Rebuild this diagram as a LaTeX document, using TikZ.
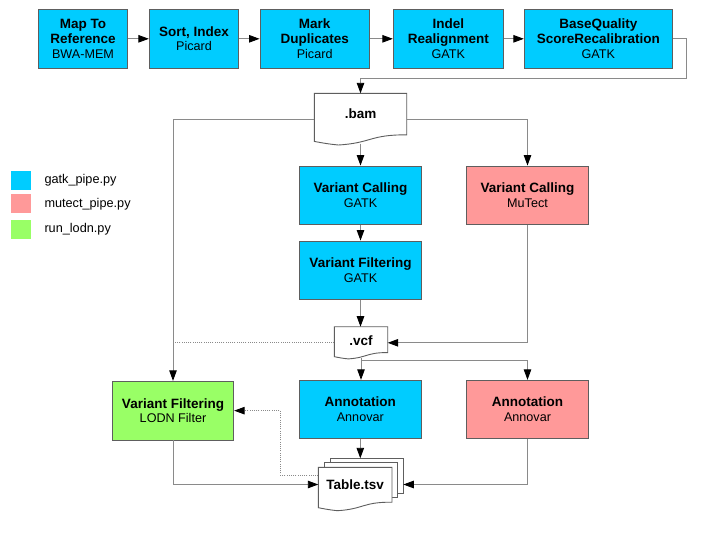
\documentclass[tikz,border=0pt]{standalone}
\usepackage{fontspec}
\setmainfont{Liberation Sans}
\usetikzlibrary{arrows.meta,calc}
\definecolor{gblue}{HTML}{00CCFF}
\definecolor{mpink}{HTML}{FF9999}
\definecolor{lgreen}{HTML}{99FF66}
\definecolor{bordergray}{HTML}{5E5E5E}
\definecolor{linegray}{HTML}{8A8A8A}
\newcommand\boxtitle[1]{{\fontsize{13.5pt}{14.7pt}\selectfont\bfseries #1}}
\newcommand\docshape[4]{\draw[docline] (#1,#2) -- ({#1+#3},#2) -- ({#1+#3},{#2+0.804*#4}) .. controls ({#1+0.604*#3},{#2+0.797*#4}) and ({#1+0.618*#3},{#2+0.962*#4}) .. ({#1+0.26*#3},{#2+#4}) .. controls ({#1+0.132*#3},{#2+0.977*#4}) and ({#1+0.086*#3},{#2+0.958*#4}) .. (#1,{#2+0.931*#4}) -- cycle;}
\begin{document}
\begin{tikzpicture}[x=1pt,y=-1pt,
  procbox/.style={draw=bordergray, line width=0.9pt, align=center, inner sep=0pt, font=\fontsize{12.6pt}{14.7pt}\selectfont},
  bluebox/.style={procbox, fill=gblue},
  pinkbox/.style={procbox, fill=mpink},
  greenbox/.style={procbox, fill=lgreen},
  toprow/.style={minimum height=59pt},
  midbox/.style={minimum width=122.4pt, minimum height=58.3pt},
  docline/.style={draw=bordergray, line width=0.9pt, fill=white},
  hidden/.style={inner sep=0pt, outer sep=0pt},
  doctext/.style={font=\fontsize{13.5pt}{14.7pt}\selectfont\bfseries},
  conn/.style={draw=linegray, line width=0.9pt, -{Triangle[length=10.5pt,width=7.5pt,color=black,fill=black]}},
  plainconn/.style={draw=linegray, line width=0.9pt},
  dotconn/.style={draw=linegray, line width=0.9pt, dash pattern=on 1pt off 1.2pt},
  legsq/.style={fill=#1, minimum width=19.7pt, minimum height=19pt, inner sep=0pt},
  legtext/.style={anchor=west, inner sep=0pt, font=\fontsize{12.7pt}{14pt}\selectfont}
]
\useasboundingbox[fill=white] (0,0) rectangle (717,536);

% top row
\node[bluebox, toprow, minimum width=89.4pt] (map) at (83,38.8) {\boxtitle{Map To}\\\boxtitle{Reference}\\BWA-MEM};
\node[bluebox, toprow, minimum width=89.4pt] (sort) at (194,38.8) {\boxtitle{Sort, Index}\\Picard};
\node[bluebox, toprow, minimum width=109.3pt] (mark) at (314.65,38.8) {\boxtitle{Mark}\\\boxtitle{Duplicates}\\Picard};
\node[bluebox, toprow, minimum width=110pt] (indel) at (448.3,38.8) {\boxtitle{Indel}\\\boxtitle{Realignment}\\GATK};
\node[bluebox, toprow, minimum width=148pt] (base) at (598.3,38.8) {\boxtitle{BaseQuality}\\\boxtitle{ScoreRecalibration}\\GATK};

% .bam document
\docshape{314.3}{93.3}{92.4}{51.7}
\node[hidden, minimum width=92.4pt, minimum height=51.7pt] (bam) at (360.5,119.15) {};
\node[doctext] (bamtxt) at (360.5,114) {.bam};
\coordinate (bamb) at (360.5,143.5);

% variant calling
\node[bluebox, midbox] (vc) at (360.5,195.15) {\boxtitle{Variant Calling}\\GATK};
\node[bluebox, midbox] (vf) at (360.5,270.15) {\boxtitle{Variant Filtering}\\GATK};
\node[pinkbox, midbox] (mut) at (527.5,195.15) {\boxtitle{Variant Calling}\\MuTect};

% .vcf document
\docshape{334.3}{326.7}{53.4}{32.2}
\node[hidden, minimum width=53.4pt, minimum height=32.2pt] (vcf) at (361,342.8) {};
\node[doctext] (vcftxt) at (361,340.5) {.vcf};
\coordinate (vcfb) at (361,357.9);
\coordinate (vsplit) at (361,360);

% lower row
\node[greenbox, minimum width=121.4pt, minimum height=58.7pt] (lodn) at (173,410.65) {\boxtitle{Variant Filtering}\\LODN Filter};
\node[bluebox, minimum width=122pt, minimum height=58pt] (annb) at (360.3,409.3) {\boxtitle{Annotation}\\Annovar};
\node[pinkbox, minimum width=122.4pt, minimum height=58pt] (annp) at (527.5,409.3) {\boxtitle{Annotation}\\Annovar};

% Table.tsv multi-document
\draw[docline] (330,458.3) rectangle (403.3,493);
\draw[docline] (324,462.7) rectangle (397.7,497.7);
\docshape{318.3}{467.3}{73.7}{43.4}
\node[hidden, minimum width=85pt, minimum height=52.4pt] (tbl) at (360.8,484.5) {};
\node[doctext] (tbltxt) at (355.15,484.7) {Table.tsv};
\coordinate (tbldot) at (318.3,475);
\coordinate (dotx) at (280.3,475);

% legend
\node[legsq=gblue] (lg1) at (20.85,180.35) {};
\node[legsq=mpink] (lg2) at (20.85,203.8) {};
\node[legsq=lgreen] (lg3) at (20.85,229.15) {};
\node[legtext] (lt1) at (44.3,180.3) {gatk\_pipe.py};
\node[legtext] (lt2) at (44.3,203.8) {mutect\_pipe.py};
\node[legtext] (lt3) at (44.3,229) {run\_lodn.py};

% connectors
\draw[conn] (map.east) -- (sort.west);
\draw[conn] (sort.east) -- (mark.west);
\draw[conn] (mark.east) -- (indel.west);
\draw[conn] (indel.east) -- (base.west);
\coordinate (e1) at (686,78.3);
\draw[conn] (base.east) -| (e1) -| (bam.north);
\draw[conn] (bam.east) -| (mut.north);
\draw[conn] (bam.west) -| (lodn.north);
\draw[conn] (bamb) -- (vc.north);
\draw[conn] (vc.south) -- (vf.north);
\draw[conn] (vf.south) -- (vf.south |- vcf.north);
\draw[conn] (mut.south) |- (vcf.east);
\draw[dotconn] (vcf.west) -- (vcf.west -| lodn.north);
\draw[plainconn] (vcfb) -- (vsplit);
\draw[conn] (vsplit) -- (vsplit |- annb.north);
\draw[conn] (vsplit) -| (annp.north);
\draw[conn] (lodn.south) |- (tbl.west);
\draw[conn] (annb.south) -- (annb.south |- tbl.north);
\draw[conn] (annp.south) |- (tbl.east);
\draw[dotconn, -{Triangle[length=10.5pt,width=7.5pt,color=black,fill=black]}] (tbldot) -- (dotx) |- (lodn.east);
\end{tikzpicture}
\end{document}
